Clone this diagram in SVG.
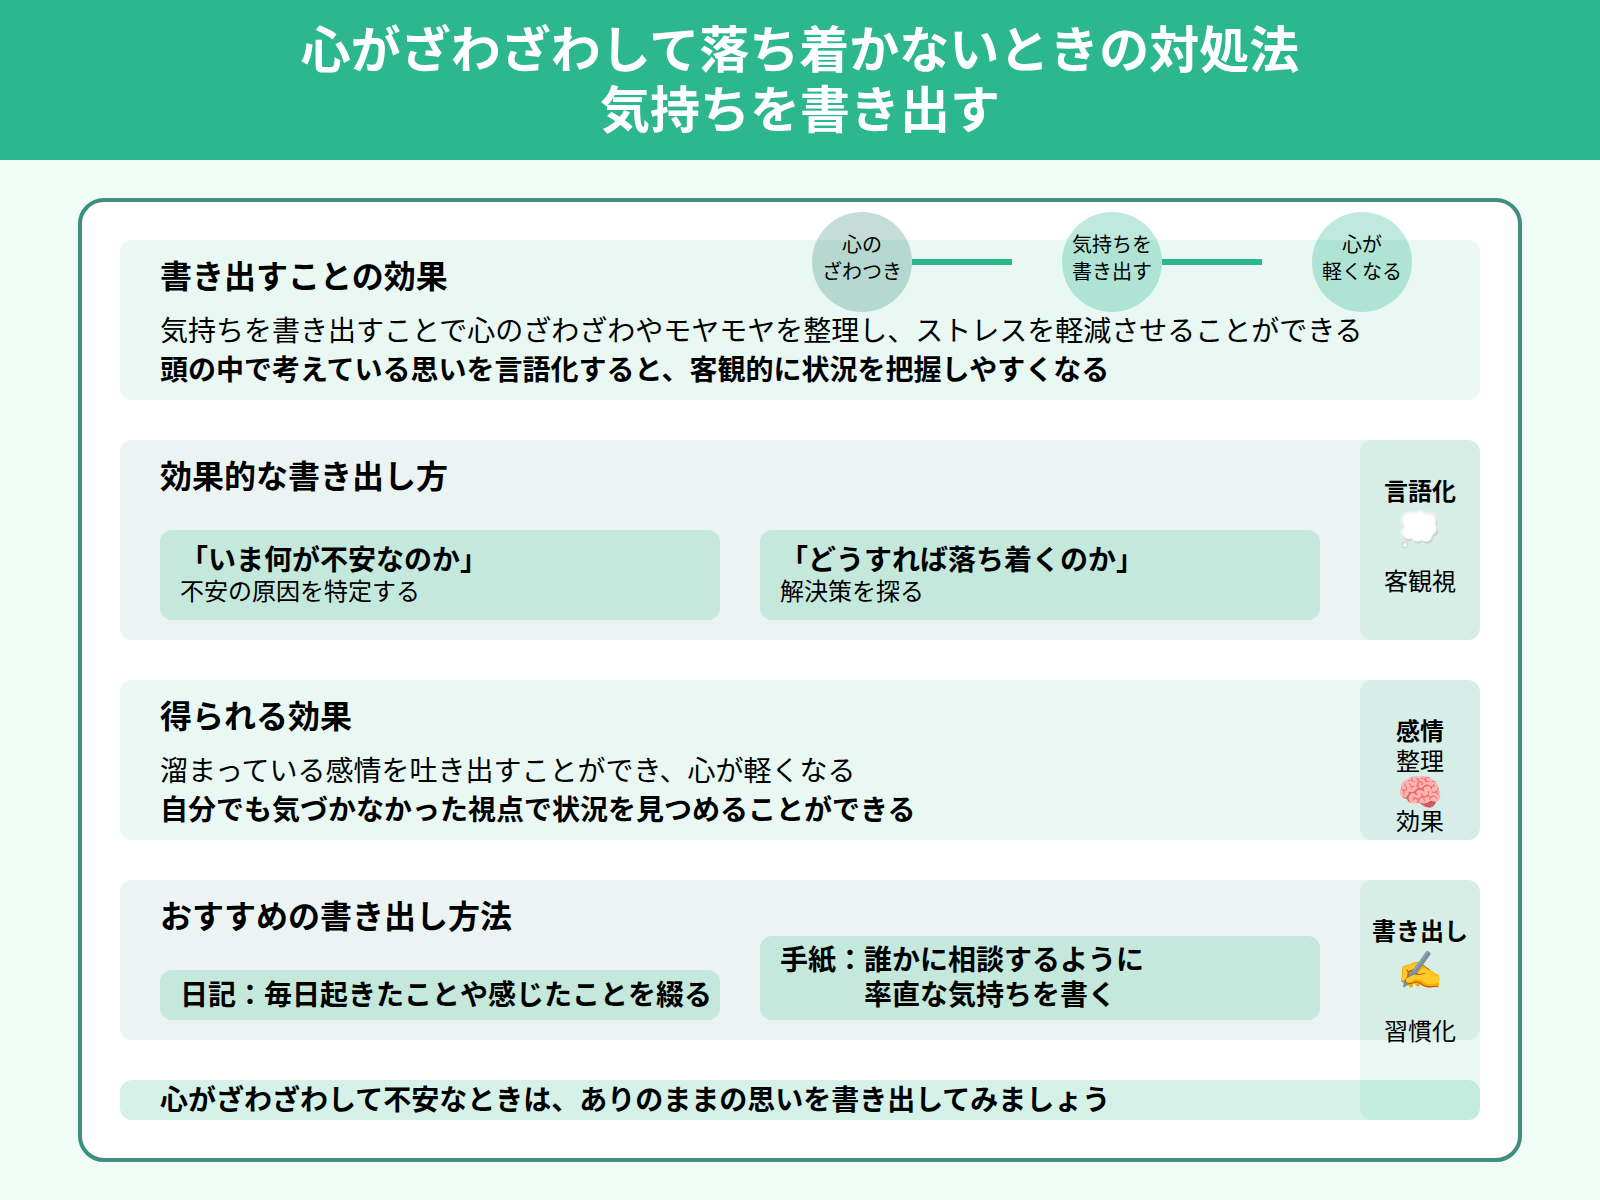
<svg xmlns="http://www.w3.org/2000/svg" width="1600" height="1200" viewBox="0 0 1600 1200">
<style>
text{font-family:"Noto Sans CJK JP","Noto Sans",sans-serif;fill:#000}
.title{font-size:50px;font-weight:700;fill:#fff;text-anchor:middle}
.h{font-size:32px;font-weight:700}
.b{font-size:28px}
.bb{font-size:28px;font-weight:700}
.s{font-size:24px}
.c{font-size:20px;text-anchor:middle}
.sl{font-size:24px;text-anchor:middle}
.slb{font-size:24px;font-weight:700;text-anchor:middle}
.e{font-size:37px;text-anchor:middle;font-family:"Noto Color Emoji","Apple Color Emoji",sans-serif}
.g{fill:#2CB78E}
.d{fill:#3F8F7F}
</style>
<defs>
<filter id="soft" x="-20%" y="-20%" width="140%" height="140%"><feGaussianBlur stdDeviation="1.100"/></filter>
<filter id="soft2" x="-20%" y="-20%" width="140%" height="140%"><feGaussianBlur stdDeviation=".5"/></filter>
<g id="lumps"><circle cx="1419" cy="527" r="13"/><circle cx="1411" cy="522" r="9"/><circle cx="1421" cy="520" r="8"/><circle cx="1430" cy="522" r="7.500"/><circle cx="1431" cy="530" r="7"/><circle cx="1427" cy="537" r="6.500"/><circle cx="1418" cy="537" r="6.500"/><circle cx="1409" cy="534" r="7"/></g>
</defs>
<rect width="1600" height="1200" fill="#F0FDF6"/>
<g id="header"><rect width="1600" height="160" fill="#2CB78E"/>
<text class="title" x="800" y="68">心がざわざわして落ち着かないときの対処法</text>
<text class="title" x="800" y="128">気持ちを書き出す</text></g>
<rect id="panel" x="80" y="200" width="1440" height="960" rx="24" fill="#fff" stroke="#3F8F7F" stroke-width="4"/>
<g id="section1"><rect class="g" fill-opacity=".1" x="120" y="240" width="1360" height="160" rx="12"/>
<text class="h" x="160" y="288">書き出すことの効果</text>
<text class="b" x="160" y="341">気持ちを書き出すことで心のざわざわやモヤモヤを整理し、ストレスを軽減させることができる</text>
<text class="bb" x="160" y="380">頭の中で考えている思いを言語化すると、客観的に状況を把握しやすくなる</text></g>
<g id="connectors"><path d="M912 262H1012M1162 262H1262" stroke="#2CB78E" stroke-width="6" fill="none"/></g>
<g id="step1"><circle class="d" fill-opacity=".3" cx="862" cy="262" r="50"/><text class="c" x="862" y="252">心の</text><text class="c" x="862" y="278.500">ざわつき</text></g>
<g id="step2"><circle class="g" fill-opacity=".3" cx="1112" cy="262" r="50"/><text class="c" x="1112" y="252">気持ちを</text><text class="c" x="1112" y="278.500">書き出す</text></g>
<g id="step3"><circle class="g" fill-opacity=".3" cx="1362" cy="262" r="50"/><text class="c" x="1362" y="252">心が</text><text class="c" x="1362" y="278.500">軽くなる</text></g>
<g id="section2"><rect class="d" fill-opacity=".1" x="120" y="440" width="1360" height="200" rx="12"/>
<text class="h" x="160" y="488">効果的な書き出し方</text>
<rect class="g" fill-opacity=".2" x="160" y="530" width="560" height="90" rx="12"/>
<text class="bb" x="180" y="570">「いま何が不安なのか」</text><text class="s" x="180" y="600">不安の原因を特定する</text>
<rect class="g" fill-opacity=".2" x="760" y="530" width="560" height="90" rx="12"/>
<text class="bb" x="780" y="570">「どうすれば落ち着くのか」</text><text class="s" x="780" y="600">解決策を探る</text></g>
<g id="side1"><rect class="g" fill-opacity=".1" x="1360" y="440" width="120" height="200" rx="12"/>
<text class="slb" x="1420" y="500">言語化</text>
<use href="#lumps" fill="#aeb4b2" filter="url(#soft2)"/>
<use href="#lumps" fill="#fff" transform="translate(-.7 -1.200)" filter="url(#soft)"/>
<circle cx="1405" cy="545" r="2.800" fill="#f4f4f4" stroke="#b9c0be" stroke-width=".7"/>
<text class="sl" x="1420" y="590">客観視</text></g>
<g id="section3"><rect class="g" fill-opacity=".1" x="120" y="680" width="1360" height="160" rx="12"/>
<text class="h" x="160" y="728">得られる効果</text>
<text class="b" x="160" y="781">溜まっている感情を吐き出すことができ、心が軽くなる</text>
<text class="bb" x="160" y="820">自分でも気づかなかった視点で状況を見つめることができる</text></g>
<g id="side2"><rect class="d" fill-opacity=".1" x="1360" y="680" width="120" height="160" rx="12"/>
<text class="slb" x="1420" y="740">感情</text><text class="sl" x="1420" y="770">整理</text><text class="e" x="1420" y="805">🧠</text><text class="sl" x="1420" y="830">効果</text></g>
<g id="section4"><rect class="d" fill-opacity=".1" x="120" y="880" width="1360" height="160" rx="12"/>
<text class="h" x="160" y="928">おすすめの書き出し方法</text>
<rect class="g" fill-opacity=".2" x="160" y="970" width="560" height="50" rx="12"/>
<text class="bb" x="180" y="1005">日記：毎日起きたことや感じたことを綴る</text>
<rect class="g" fill-opacity=".2" x="760" y="936" width="560" height="84" rx="12"/>
<text class="bb" x="780" y="970">手紙：誰かに相談するように</text><text class="bb" x="864" y="1005">率直な気持ちを書く</text></g>
<g id="footer"><rect class="g" fill-opacity=".2" x="120" y="1080" width="1360" height="40" rx="12"/>
<text class="bb" x="160" y="1110">心がざわざわして不安なときは、ありのままの思いを書き出してみましょう</text></g>
<g id="side3"><rect class="g" fill-opacity=".1" x="1360" y="880" width="120" height="240" rx="12"/>
<text class="slb" x="1420" y="940">書き出し</text><text class="e" x="1420" y="983">✍️</text><text class="sl" x="1420" y="1040">習慣化</text></g>
</svg>
